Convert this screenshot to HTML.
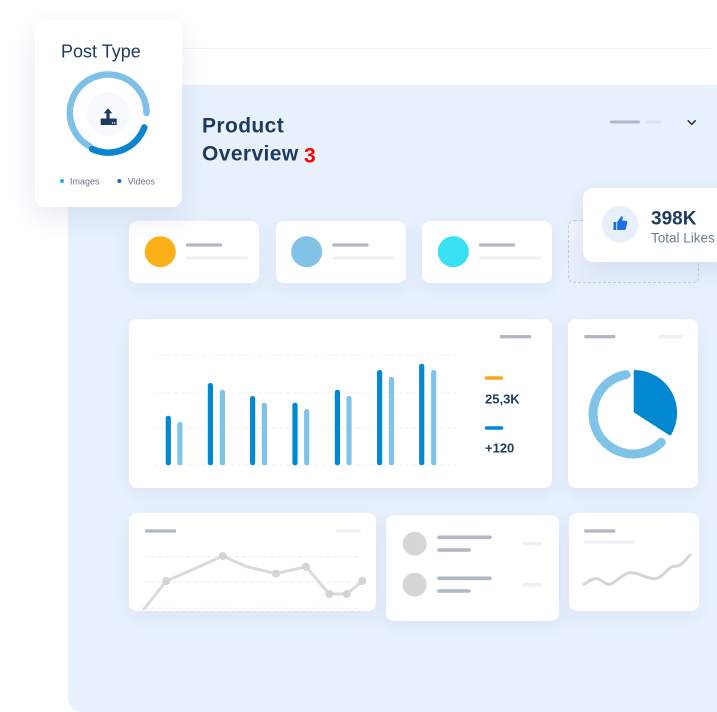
<!DOCTYPE html>
<html><head><meta charset="utf-8">
<style>
*{margin:0;padding:0;box-sizing:border-box}
html,body{width:717px;height:712px;overflow:hidden;background:#fff;font-family:"Liberation Sans",sans-serif}
.a{position:absolute}
.card{position:absolute;background:#fff;border-radius:8px;box-shadow:0 6px 18px rgba(160,185,225,0.22)}
</style></head><body>
<div class="a" style="left:180px;top:48px;width:531px;height:1px;background:#f0f4fa"></div>
<div class="a" style="left:68px;top:85px;width:680px;height:627px;background:#e9f1fd;border-radius:13px"></div>

<div class="card" style="left:129px;top:221px;width:130px;height:62px"></div>
<div class="card" style="left:276px;top:221px;width:130px;height:62px"></div>
<div class="card" style="left:422px;top:221px;width:130px;height:62px"></div>
<div class="a" style="left:568px;top:220px;width:131px;height:63px;border:1px dashed #c3cad4;border-radius:6px;background:linear-gradient(180deg,#f4f7fc,#e6eefb)"></div>

<div class="card" style="left:129px;top:319px;width:423px;height:169px"></div>
<div class="card" style="left:568px;top:319px;width:130px;height:169px"></div>
<div class="card" style="left:129px;top:513px;width:247px;height:98px"></div>
<div class="card" style="left:386px;top:515px;width:173px;height:106px"></div>
<div class="card" style="left:569px;top:513px;width:130px;height:98px"></div>

<div class="a" style="left:583px;top:188px;width:160px;height:74px;background:#fff;border-radius:10px;box-shadow:0 8px 24px rgba(140,165,205,0.25)"></div>
<div class="a" style="left:35px;top:20px;width:147px;height:187px;background:#fff;border-radius:10px;box-shadow:0 10px 30px rgba(120,140,175,0.18)"></div>

<svg class="a" style="left:0;top:0" width="717" height="712" viewBox="0 0 717 712">
<!-- Post type card -->
<text x="61" y="57.5" font-family="Liberation Sans, sans-serif" font-size="18" fill="#1e3a5c">Post Type</text>
<circle cx="108.3" cy="114.3" r="22" fill="#f7f9fc"/>
<path d="M89.8,146.4 A38.3,38.3 0 1 1 146.5,112.9" fill="none" stroke="#7ec1e6" stroke-width="6.5" stroke-linecap="round"/>
<path d="M144.3,127.4 A38.3,38.3 0 0 1 92.1,149.0" fill="none" stroke="#0a84cc" stroke-width="6.5" stroke-linecap="round"/>
<g fill="#1e3a5c">
<path d="M108,108.3 L112.3,113.3 L109.6,113.3 L109.6,119 L106.4,119 L106.4,113.3 L103.7,113.3 Z"/>
<rect x="100.7" y="118.5" width="16" height="6.5"/>
</g>
<rect x="100.7" y="118.5" width="5.7" height="1" fill="#1e3a5c"/>
<circle cx="112.5" cy="123" r="0.7" fill="#fff"/><circle cx="114.6" cy="123" r="0.7" fill="#fff"/>
<circle cx="62" cy="181" r="2" fill="#1cb4e3"/>
<text x="70" y="184.3" font-family="Liberation Sans, sans-serif" font-size="9" fill="#6b7686">Images</text>
<circle cx="119.3" cy="181" r="2" fill="#1565d8"/>
<text x="127.7" y="184.3" font-family="Liberation Sans, sans-serif" font-size="9" fill="#6b7686">Videos</text>

<!-- title -->
<text x="202" y="132.7" font-family="Liberation Sans, sans-serif" font-size="21" font-weight="bold" letter-spacing="0.4" fill="#1d3b5e">Product</text>
<text x="202" y="160.7" font-family="Liberation Sans, sans-serif" font-size="21" font-weight="bold" letter-spacing="0.4" fill="#1d3b5e">Overview</text>
<text x="304" y="162.5" font-family="Liberation Sans, sans-serif" font-size="21" font-weight="bold" fill="#ff0000">3</text>

<!-- top right -->
<line x1="611.5" y1="122" x2="638.5" y2="122" stroke="#b1b8c4" stroke-width="3" stroke-linecap="round"/>
<line x1="646.5" y1="122" x2="659.5" y2="122" stroke="#dce3ee" stroke-width="3" stroke-linecap="round"/>
<path d="M688.2,120.8 L691.7,124.3 L695.2,120.8" fill="none" stroke="#1e3a5c" stroke-width="1.6" stroke-linecap="round" stroke-linejoin="round"/>

<!-- stat cards -->
<circle cx="160.3" cy="251.7" r="15.5" fill="#fbaf19"/>
<circle cx="306.7" cy="251.7" r="15.5" fill="#80c3e6"/>
<circle cx="453.3" cy="251.7" r="15.5" fill="#38e0f2"/>
<g stroke-linecap="round" stroke-width="3.3">
<line x1="187.5" y1="245" x2="220.5" y2="245" stroke="#b1b8c4"/>
<line x1="187.5" y1="258" x2="246.5" y2="258" stroke="#edf0f4"/>
<line x1="334" y1="245" x2="367" y2="245" stroke="#b1b8c4"/>
<line x1="334" y1="258" x2="393" y2="258" stroke="#edf0f4"/>
<line x1="480.5" y1="245" x2="513.5" y2="245" stroke="#b1b8c4"/>
<line x1="480.5" y1="258" x2="539.5" y2="258" stroke="#edf0f4"/>
</g>

<!-- total likes -->
<circle cx="620" cy="224.3" r="18.3" fill="#e8f0fc"/>
<g fill="#1b6fe3">
<rect x="613.5" y="222" width="2.8" height="8" rx="0.5"/>
<path d="M617.2,222 L620.5,217.5 C621,216 622.3,215.6 622.8,217 L622.3,220.8 L625.7,220.8 C627,220.8 627.5,222 627.2,223 L625.8,228.6 C625.5,229.6 624.8,230 624,230 L617.2,230 Z"/>
</g>
<text x="651" y="224.3" font-family="Liberation Sans, sans-serif" font-size="19" font-weight="bold" fill="#1d3b5e">398K</text>
<text x="651" y="242.3" font-family="Liberation Sans, sans-serif" font-size="13.5" fill="#6c7c93">Total Likes</text>

<!-- bar chart -->
<line x1="501.5" y1="336.7" x2="529.5" y2="336.7" stroke="#b1b8c4" stroke-width="3.3" stroke-linecap="round"/>
<g stroke="#eef0f3" stroke-width="1" stroke-dasharray="4 3">
<line x1="153" y1="355.3" x2="456" y2="355.3"/>
<line x1="153" y1="392.3" x2="456" y2="392.3"/>
<line x1="153" y1="428.3" x2="456" y2="428.3"/>
<line x1="153" y1="465" x2="456" y2="465"/>
</g>
<g fill="#0288d1">
<rect x="165.7" y="415.7" width="5.2" height="49.6" rx="2.5"/>
<rect x="207.8" y="383" width="5.2" height="82.3" rx="2.5"/>
<rect x="250" y="396" width="5.2" height="69.3" rx="2.5"/>
<rect x="292.4" y="402.7" width="5.2" height="62.6" rx="2.5"/>
<rect x="334.8" y="389.7" width="5.2" height="75.6" rx="2.5"/>
<rect x="377" y="370" width="5.2" height="95.3" rx="2.5"/>
<rect x="419.1" y="363.7" width="5.2" height="101.6" rx="2.5"/>
</g>
<g fill="#7fc4e8">
<rect x="177.3" y="422" width="5.2" height="43.3" rx="2.5"/>
<rect x="219.8" y="389.7" width="5.2" height="75.6" rx="2.5"/>
<rect x="261.8" y="402.7" width="5.2" height="62.6" rx="2.5"/>
<rect x="304.1" y="409" width="5.2" height="56.3" rx="2.5"/>
<rect x="346.4" y="396" width="5.2" height="69.3" rx="2.5"/>
<rect x="388.8" y="376.7" width="5.2" height="88.6" rx="2.5"/>
<rect x="431.1" y="370" width="5.2" height="95.3" rx="2.5"/>
</g>
<line x1="486.5" y1="378" x2="501.5" y2="378" stroke="#f8a81a" stroke-width="3.5" stroke-linecap="round"/>
<text x="485" y="403.3" font-family="Liberation Sans, sans-serif" font-size="13" font-weight="bold" fill="#1d3b5e">25,3K</text>
<line x1="486.5" y1="428" x2="501.5" y2="428" stroke="#0288d1" stroke-width="3.5" stroke-linecap="round"/>
<text x="485" y="452.7" font-family="Liberation Sans, sans-serif" font-size="13" font-weight="bold" fill="#1d3b5e">+120</text>

<!-- pie card -->
<line x1="585.8" y1="336.7" x2="613.8" y2="336.7" stroke="#b1b8c4" stroke-width="3.3" stroke-linecap="round"/>
<line x1="660.3" y1="336.7" x2="681.5" y2="336.7" stroke="#edf0f4" stroke-width="3.3" stroke-linecap="round"/>
<path d="M661.3,442.3 A40,40 0 1 1 626.1,374.6" fill="none" stroke="#7fc4e8" stroke-width="9" stroke-linecap="round"/>
<path d="M635.2,371.5 A41.5,41.5 0 0 1 670,433.8 L635.2,411.5 Z" fill="#0288d1" stroke="#0288d1" stroke-width="3" stroke-linejoin="round"/>

<!-- line card -->
<line x1="146.5" y1="531" x2="174.5" y2="531" stroke="#b1b8c4" stroke-width="3.3" stroke-linecap="round"/>
<line x1="337.5" y1="531" x2="359.5" y2="531" stroke="#edf0f4" stroke-width="3.3" stroke-linecap="round"/>
<g stroke="#eceef1" stroke-width="1" stroke-dasharray="4 3">
<line x1="144" y1="556.7" x2="360" y2="556.7"/>
<line x1="144" y1="582" x2="360" y2="582"/>
<line x1="144" y1="608.3" x2="360" y2="608.3"/>
</g>
<polyline points="144,609 166.3,581 190,570.7 222.7,556 246.7,566.7 276,573.7 306,566.7 329.3,594 346.7,594 362.3,581" fill="none" stroke="#dadada" stroke-width="3" stroke-linejoin="round" stroke-linecap="round"/>
<g fill="#d4d4d4">
<circle cx="166.3" cy="581" r="4"/><circle cx="222.7" cy="556" r="4"/><circle cx="276" cy="573.7" r="4"/>
<circle cx="306" cy="566.7" r="4"/><circle cx="329.3" cy="594" r="4"/><circle cx="346.7" cy="594" r="4"/><circle cx="362.3" cy="581" r="4"/>
</g>

<!-- list card -->
<circle cx="414.7" cy="543.7" r="12" fill="#d6d6d6"/>
<circle cx="414.7" cy="584.7" r="12" fill="#d6d6d6"/>
<g stroke="#b1b8c4" stroke-width="3.6" stroke-linecap="round">
<line x1="439" y1="537.3" x2="490" y2="537.3"/>
<line x1="439" y1="550" x2="469" y2="550"/>
<line x1="439" y1="578.3" x2="490" y2="578.3"/>
<line x1="439" y1="591" x2="469" y2="591"/>
</g>
<g stroke="#edf0f4" stroke-width="3.6" stroke-linecap="round">
<line x1="524.5" y1="543.7" x2="540.5" y2="543.7"/>
<line x1="524.5" y1="584.7" x2="540.5" y2="584.7"/>
</g>

<!-- wave card -->
<line x1="585.8" y1="531" x2="613.8" y2="531" stroke="#b1b8c4" stroke-width="3.3" stroke-linecap="round"/>
<line x1="585.8" y1="542" x2="633.5" y2="542" stroke="#edf0f4" stroke-width="3.3" stroke-linecap="round"/>
<path d="M584,584.3 C590,580 594,578 597.3,578.7 C602,579.5 605,585 609.3,584.3 C616,583 624,572 631.7,572.7 C640,573 647,579 655,578.7 C663,578 668,567 673.3,566.5 C677,566 678,566 680,565 C684,563 687,558 690,555" fill="none" stroke="#d6d6d6" stroke-width="3" stroke-linecap="round"/>
</svg>
</body></html>
